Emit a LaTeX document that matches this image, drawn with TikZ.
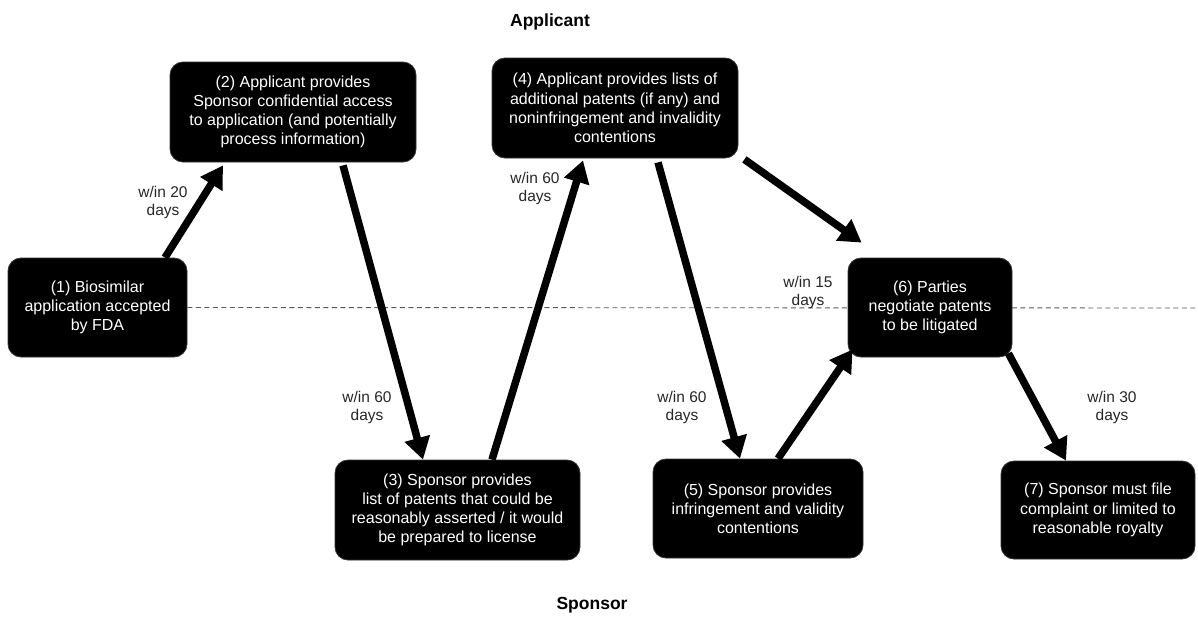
\documentclass[tikz,border=0pt]{standalone}
\usepackage{fontspec}
\setmainfont{Liberation Sans}
\usetikzlibrary{arrows.meta}
\begin{document}
\begin{tikzpicture}[x=1pt,y=-1pt,
  box/.style={rectangle, rounded corners=13pt, fill=black, draw=black!80, line width=0.8pt, text=white, align=center, inner sep=0pt, font=\fontsize{16}{19.2}\selectfont},
  lbl/.style={align=center, inner sep=0pt, text=black!85, font=\fontsize{15.5}{18}\selectfont},
  ttl/.style={inner sep=0pt, font=\fontsize{17.5}{20}\selectfont\bfseries},
  flow/.style={line width=7.5pt, draw=black, -{Triangle[length=22pt,width=25pt]}},
  sep/.style={dash pattern=on 5pt off 3.5pt, line width=0.9pt, draw=black!65}]
\useasboundingbox (0,0) rectangle (1198,616);

% titles
\node[ttl] (tapp) at (550,22) {Applicant};
\node[ttl] (tspo) at (592,605) {Sponsor};

% boxes
\node[box, minimum width=179pt, minimum height=99pt] (b1) at (97.5,307.5)
  {(1) Biosimilar\\application accepted\\by FDA};
\coordinate (dashend) at (1198,308);
\draw[sep] (b1.east) -- (dashend);

\node[box, minimum width=246pt, minimum height=100pt] (b2) at (293,112)
  {(2) Applicant provides\\Sponsor confidential access\\to application (and potentially\\process information)};
\node[box, minimum width=245pt, minimum height=100pt] (b3) at (457.5,510)
  {(3) Sponsor provides\\list of patents that could be\\reasonably asserted / it would\\be prepared to license};
\node[box, minimum width=246pt, minimum height=100pt] (b4) at (615,108)
  {(4) Applicant provides lists of\\additional patents (if any) and\\noninfringement and invalidity\\contentions};
\node[box, minimum width=210pt, minimum height=99pt] (b5) at (758,508.5)
  {(5) Sponsor provides\\infringement and validity\\contentions};
\node[box, minimum width=164pt, minimum height=99pt] (b6) at (930,307.5)
  {(6) Parties\\negotiate patents\\to be litigated};
\node[box, minimum width=194pt, minimum height=98pt] (b7) at (1098,510)
  {(7) Sponsor must file\\complaint or limited to\\reasonable royalty};

% connectors
\draw[flow] ([xshift=67.5pt]b1.north) -- ([xshift=-70pt,yshift=-3pt]b2.south);
\draw[flow] ([xshift=50pt,yshift=-3pt]b2.south) -- ([xshift=-34.5pt]b3.north);
\draw[flow] ([xshift=34.5pt]b3.north) -- ([xshift=-32pt,yshift=-2pt]b4.south);
\draw[flow] ([xshift=43pt,yshift=-4pt]b4.south) -- ([xshift=-18pt]b5.north);
\draw[flow] ([xshift=6pt,yshift=-1pt]b4.south east) -- ([xshift=14pt,yshift=15pt]b6.north west);
\draw[flow] ([xshift=20pt]b5.north) -- ([xshift=5pt,yshift=8pt]b6.south west);
\draw[flow] ([xshift=-4pt,yshift=4pt]b6.south east) -- ([xshift=-32pt]b7.north);

% labels
\node[lbl] (l1) at (163,202) {w/in 20\\days};
\node[lbl] (l2) at (367,407) {w/in 60\\days};
\node[lbl] (l3) at (535,188) {w/in 60\\days};
\node[lbl] (l4) at (808,292) {w/in 15\\days};
\node[lbl] (l5) at (682,407) {w/in 60\\days};
\node[lbl] (l6) at (1112,407) {w/in 30\\days};
\end{tikzpicture}
\end{document}
